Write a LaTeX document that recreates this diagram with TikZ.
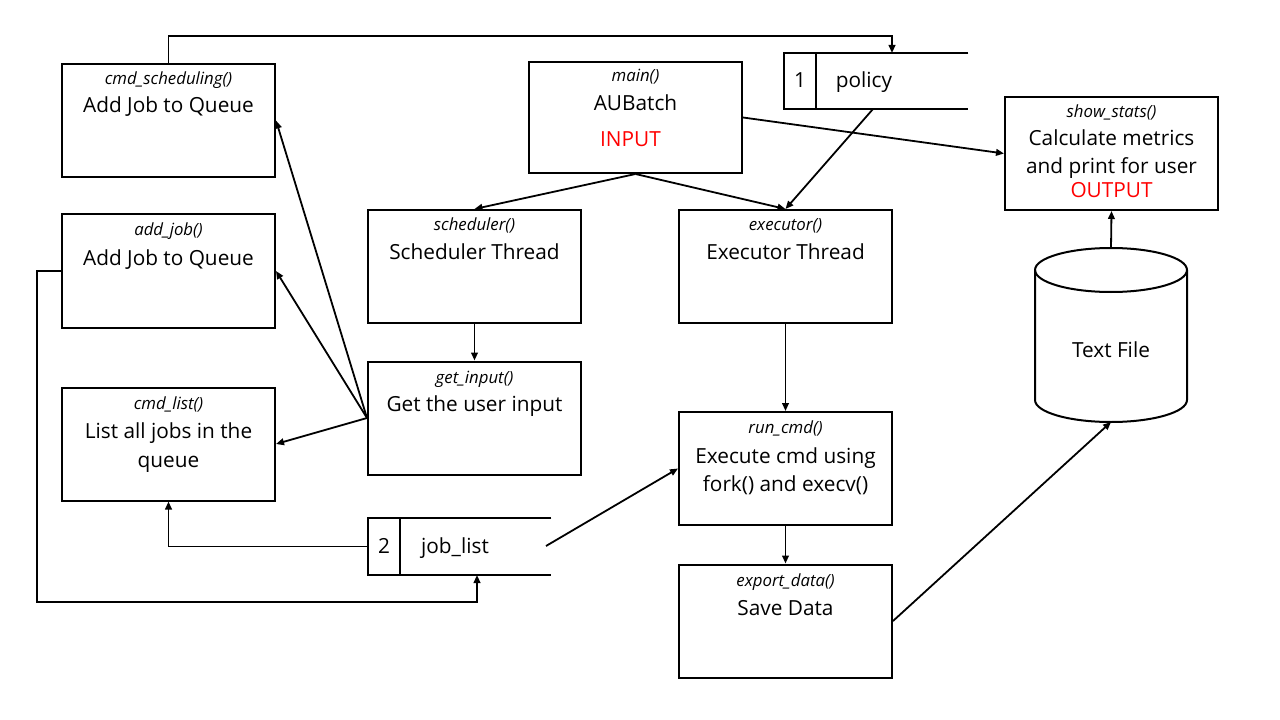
\documentclass[tikz,border=0pt]{standalone}
\usepackage{fontspec}
\setmainfont{Open Sans}
\usetikzlibrary{arrows.meta,calc}
\begin{document}
\begin{tikzpicture}[x=0.75pt,y=-0.75pt]
\useasboundingbox[fill=white] (0,0) rectangle (1280,720);
\tikzset{
  box/.style={draw, line width=1.5pt, minimum width=159.75pt, minimum height=84.75pt, inner sep=0pt},
  fn/.style={font=\fontsize{12.6}{14}\selectfont\itshape, anchor=base, inner sep=0pt},
  tx/.style={font=\fontsize{15.6}{18}\selectfont, anchor=base, inner sep=0pt},
  red/.style={text={rgb,255:red,255;green,0;blue,0}},
  store/.style={inner sep=0pt, minimum height=42pt},
  arr/.style={line width=1.35pt, -{Triangle[length=6pt,width=5pt]}},
  ln/.style={line width=1.5pt}
}
% boxes
\node[box] (cmdsch) at (168.5,120.5) {};
\node[box] (addjob) at (168.5,271) {};
\node[box] (cmdlist) at (168.5,444) {};
\node[box, minimum height=83.25pt] (main) at (635.5,117.5) {};
\node[box] (sched) at (474.5,266.5) {};
\node[box] (exec) at (785.5,266.5) {};
\node[box] (getin) at (474.5,418) {};
\node[box] (runcmd) at (785.5,468.5) {};
\node[box] (export) at (785.5,621) {};
\node[box] (stats) at (1111.5,153.5) {};
% texts
\node[fn] (t1a) at (168.5,85) {cmd\_scheduling()};
\node[tx] (t1b) at (168.5,113) {Add Job to Queue};
\node[fn] (t2a) at (168.5,236) {add\_job()};
\node[tx] (t2b) at (168.5,265) {Add Job to Queue};
\node[fn] (t3a) at (168.5,409) {cmd\_list()};
\node[tx] (t3b) at (168.5,438) {List all jobs in the};
\node[tx] (t3c) at (168.5,467) {queue};
\node[fn] (t4a) at (635.5,82) {main()};
\node[tx] (t4b) at (635.5,111) {AUBatch};
\node[tx,red] (t4c) at (630.5,147) {INPUT};
\node[fn] (t5a) at (474.5,231) {scheduler()};
\node[tx] (t5b) at (474.5,259) {Scheduler Thread};
\node[fn] (t6a) at (785.5,231) {executor()};
\node[tx] (t6b) at (785.5,259) {Executor Thread};
\node[fn] (t7a) at (474.5,383) {get\_input()};
\node[tx] (t7b) at (474.5,411) {Get the user input};
\node[fn] (t8a) at (785.5,433) {run\_cmd()};
\node[tx] (t8b) at (785.5,463) {Execute cmd using};
\node[tx] (t8c) at (785.5,491) {fork() and execv()};
\node[fn] (t9a) at (785.5,586) {export\_data()};
\node[tx] (t9b) at (785.5,615) {Save Data};
\node[fn] (t10a) at (1111.5,118) {show\_stats()};
\node[tx] (t10b) at (1111.5,146) {Calculate metrics};
\node[tx] (t10c) at (1111.5,174) {and print for user};
\node[tx,red] (t10d) at (1111.5,198) {OUTPUT};
% data stores
\node[store, minimum width=138pt] (pol) at (876,81) {};
\draw[ln] (pol.north east) -- (pol.north west) -- (pol.south west) -- (pol.south east);
\draw[ln] (816,53) -- (816,109);
\node[tx] (n1) at (800,88) {1};
\node[tx] (polt) at (864,88) {policy};
\node[store, minimum width=137.25pt] (jl) at (459.5,546.5) {};
\draw[ln] (jl.north east) -- (jl.north west) -- (jl.south west) -- (jl.south east);
\draw[ln] (400,518) -- (400,575);
\node[tx] (n2) at (384,553) {2};
\node[tx] (jlt) at (455,553) {job\_list};
% cylinder
\draw[line width=1.5pt, fill=white] (1035,270) -- (1035,400) arc[start angle=180, end angle=0, x radius=76, y radius=22] -- (1187,270);
\draw[line width=1.5pt] (1111,270) ellipse [x radius=76, y radius=22];
\node[tx] (db) at (1111,357) {Text File};
\coordinate (dbtop) at (1111,248);
\coordinate (dbbot) at (1111,422);
% connectors
\coordinate (poltop) at (892,53);
\coordinate (polbot) at (873,109);
\coordinate (jlbot) at (477,575);
\coordinate (jlout) at (546,546);
\draw[arr] (cmdsch.north) -- ++(0,-27) -| (poltop);
\draw[arr] (main.east) -- (stats.west);
\draw[arr] (main.south) -- (sched.north);
\draw[arr] (main.south) -- (exec.north);
\draw[arr] (polbot) -- (exec.north);
\draw[arr] (sched.south) -- (getin.north);
\draw[arr] (getin.west) -- (cmdsch.east);
\draw[arr] (getin.west) -- (addjob.east);
\draw[arr] (getin.west) -- (cmdlist.east);
\draw[arr] (exec.south) -- (runcmd.north);
\draw[arr] (runcmd.south) -- (export.north);
\draw[arr] (export.east) -- (dbbot);
\draw[arr] (dbtop) -- (stats.south);
\draw[arr] (jl.west) -| (cmdlist.south);
\draw[arr] (addjob.west) -- ++(-24,0) -- ++(0,331) -| (jlbot);
\draw[arr] (jlout) -- (runcmd.west);
\end{tikzpicture}
\end{document}
